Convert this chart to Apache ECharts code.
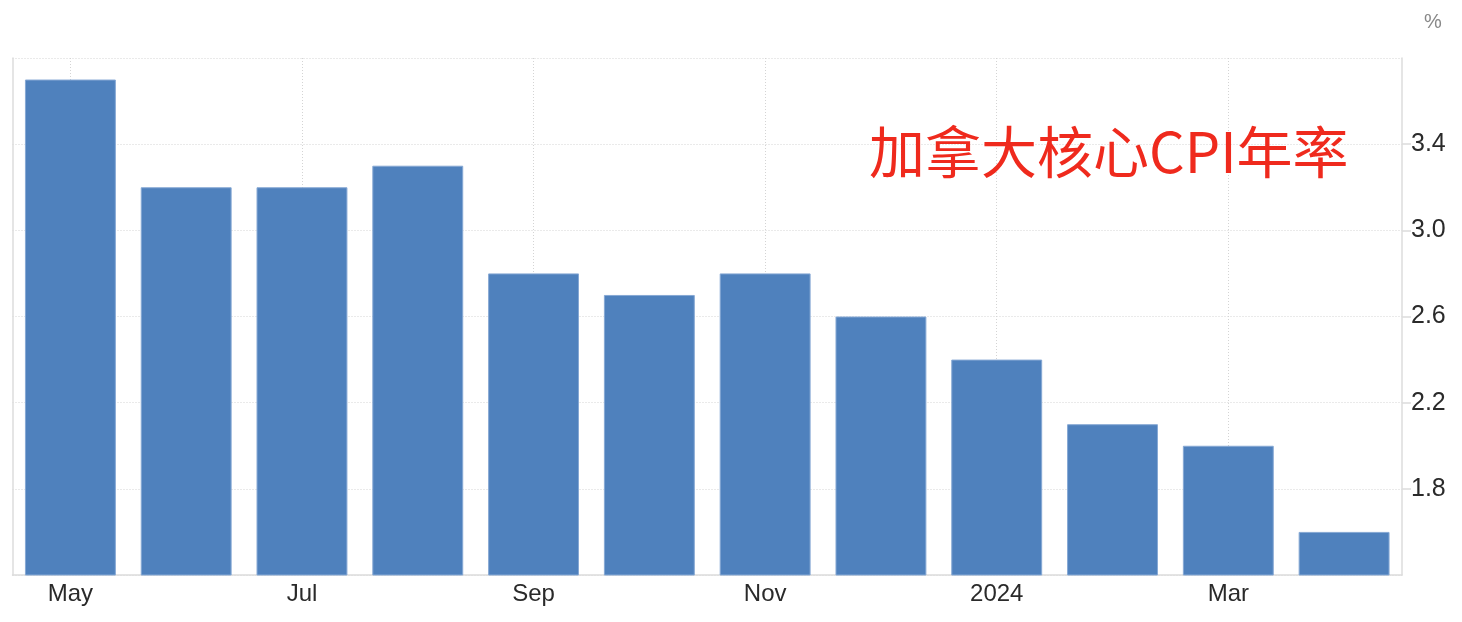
<!DOCTYPE html>
<html>
<head>
<meta charset="utf-8">
<script src="https://cdn.jsdelivr.net/npm/echarts@6/dist/echarts.min.js"></script>
<style>
html,body{margin:0;padding:0;background:#fff;}
#chart{width:1462px;height:622px;}
</style>
</head>
<body>
<div id="chart"></div>
<script>
var categories = ['May','Jun','Jul','Aug','Sep','Oct','Nov','Dec','2024','Feb','Mar','Apr'];
var coreCpiYoY = [3.7, 3.2, 3.2, 3.3, 2.8, 2.7, 2.8, 2.6, 2.4, 2.1, 2.0, 1.6];
var titleText = '加拿大核心CPI年率';
var unitLabel = '%';

var chart = echarts.init(document.getElementById('chart'), null, {renderer:'canvas'});
var gridColor = '#d4d4d4';
var axisColor = '#dcdcdc';
chart.setOption({
  animation: false,
  backgroundColor: '#fff',
  title: {
    text: titleText,
    left: 869,
    top: 124,
    padding: 0,
    textStyle: {fontSize: 56, lineHeight: 56, color: '#ef2a1d', fontWeight: 'normal', fontFamily: 'Noto Sans CJK SC'}
  },
  grid: {left: 12.5, right: 60, top: 58, bottom: 47, containLabel: false},
  xAxis: {
    type: 'category',
    data: categories,
    axisLine: {show: true, lineStyle: {color: axisColor, width: 1.5}},
    axisTick: {show: false},
    axisLabel: {interval: 1, color: '#2a2a2a', fontSize: 24, fontFamily: 'Liberation Sans', margin: 7},
    splitLine: {show: true, interval: 1, alignWithLabel: true, lineStyle: {color: gridColor, type: [1, 2], width: 1}}
  },
  yAxis: [{
    type: 'value',
    position: 'right',
    min: 1.4, max: 3.8, interval: 0.4,
    name: unitLabel,
    nameLocation: 'end',
    nameGap: 36,
    nameTextStyle: {color: '#888', fontSize: 20, fontFamily: 'Liberation Sans', align: 'left', verticalAlign: 'middle', padding: [0,0,0,22]},
    axisLine: {show: true, lineStyle: {color: axisColor, width: 1.5}},
    axisTick: {show: true, length: 16, lineStyle: {color: axisColor, width: 1.5}},
    axisLabel: {showMinLabel: false, showMaxLabel: false, color: '#2a2a2a', fontSize: 25, fontFamily: 'Liberation Sans', margin: 9,
      backgroundColor: '#fff', formatter: function(v){ return v.toFixed(1); }},
    splitLine: {show: true, lineStyle: {color: gridColor, type: [1, 2], width: 1}}
  }, {
    type: 'value',
    position: 'left',
    min: 1.4, max: 3.8, interval: 0.4,
    axisLine: {show: true, lineStyle: {color: axisColor, width: 1.5}},
    axisTick: {show: false},
    axisLabel: {show: false},
    splitLine: {show: false}
  }],
  series: [{
    type: 'bar',
    data: coreCpiYoY,
    yAxisIndex: 0,
    barCategoryGap: '21.5%',
    itemStyle: {color: '#4f81bd', borderColor: '#86a8d4', borderWidth: 1}
  }]
});
</script>
</body>
</html>
